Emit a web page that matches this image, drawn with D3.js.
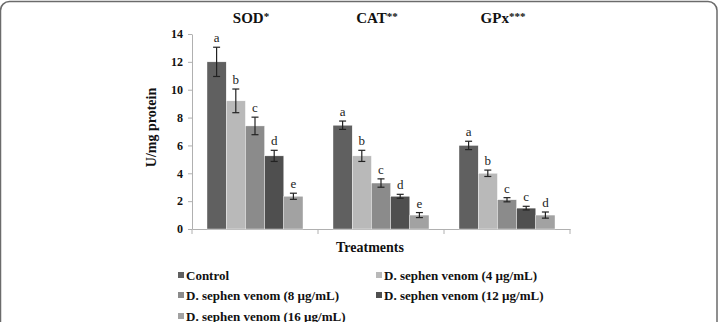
<!DOCTYPE html>
<html lang="en">
<head>
<meta charset="utf-8">
<title>Antioxidant enzymes</title>
<style type="text/css">
  body { margin: 0; background: #fff; }
  svg text { font-family: "Liberation Serif", "DejaVu Serif", serif; }
</style>
</head>
<body>
<script src="https://d3js.org/d3.v7.min.js"></script>
<script>

    // data
    var enzymes = ["SOD", "CAT", "GPx"];
    var enzymeStars = ["*", "**", "***"];
    var treatments = ["Control", "D. sephen venom (4 \u00b5g/mL)", "D. sephen venom (8 \u00b5g/mL)",
                      "D. sephen venom (12 \u00b5g/mL)", "D. sephen venom (16 \u00b5g/mL)"];
    var sodValues = [12.0, 9.2, 7.4, 5.25, 2.35];
    var catValues = [7.45, 5.25, 3.3, 2.35, 1.0];
    var gpxValues = [6.0, 4.0, 2.1, 1.5, 1.0];
    var sodErr = [1.05, 0.85, 0.63, 0.4, 0.22];
    var catErr = [0.3, 0.4, 0.3, 0.14, 0.18];
    var gpxErr = [0.3, 0.23, 0.15, 0.13, 0.22];
    var sodLetters = ["a", "b", "c", "d", "e"];
    var catLetters = ["a", "b", "c", "d", "e"];
    var gpxLetters = ["a", "b", "c", "c", "d"];
    var yTicks = [0, 2, 4, 6, 8, 10, 12, 14];

    var colors = ["#606060", "#b9b9b9", "#8b8b8b", "#4f4f4f", "#a2a2a2"];

    var values = [sodValues, catValues, gpxValues];
    var errs = [sodErr, catErr, gpxErr];
    var letters = [sodLetters, catLetters, gpxLetters];

    var margin = {top: 34, left: 192},
        width = 378,
        height = 195;

    var svg = d3.select("body").append("svg")
        .attr("width", 718)
        .attr("height", 322);

    // frame of the figure (only top part visible)
    svg.append("rect")
        .attr("x", 0.5).attr("y", 1.5)
        .attr("width", 716.5).attr("height", 400)
        .attr("rx", 9)
        .attr("fill", "none")
        .attr("stroke", "#6b6b6b")
        .attr("stroke-width", 1.5);

    var g = svg.append("g")
        .attr("transform", "translate(" + margin.left + "," + margin.top + ")");

    var yScale = d3.scaleLinear().domain([0, 14]).range([height, 0]);

    var x0 = d3.scaleBand().domain(enzymes).range([0, width]).paddingInner(0).paddingOuter(0);
    var x1 = d3.scaleBand().domain(d3.range(treatments.length))
        .range([15, x0.bandwidth() - 15]).padding(0);

    // y axis
    var yAxis = d3.axisLeft(yScale).tickValues(yTicks).tickSize(4).tickSizeOuter(0);
    var yAxisGroup = g.append("g").call(yAxis);
    yAxisGroup.select(".domain").attr("stroke", "#b0b0b0");
    yAxisGroup.selectAll(".tick line").attr("stroke", "#b0b0b0");
    yAxisGroup.selectAll(".tick text")
        .attr("x", -9)
        .attr("fill", "#111")
        .style("font-size", "12px")
        .style("font-weight", "bold");

    // x axis: baseline with separators between groups
    var xAxis = d3.axisBottom(x0).tickSize(0).tickFormat("");
    var xAxisGroup = g.append("g").attr("transform", "translate(0," + height + ")").call(xAxis);
    xAxisGroup.select(".domain").attr("stroke", "#b0b0b0");
    xAxisGroup.selectAll(".sep")
        .data([0].concat(enzymes.map(function(e){ return x0(e) + x0.bandwidth(); })))
        .enter().append("line")
        .attr("class", "sep")
        .attr("x1", function(d){ return d; }).attr("x2", function(d){ return d; })
        .attr("y1", 0).attr("y2", 5)
        .attr("stroke", "#b0b0b0");

    // bars
    var groups = g.selectAll(".grp")
        .data(enzymes)
        .enter().append("g")
        .attr("class", "grp")
        .attr("transform", function(d){ return "translate(" + x0(d) + ",0)"; });

    groups.each(function(e, gi){
        var grp = d3.select(this);
        var rows = treatments.map(function(t, i){
            return {i: i, v: values[gi][i], e: errs[gi][i], l: letters[gi][i]};
        });

        grp.selectAll("rect")
            .data(rows)
            .enter().append("rect")
            .attr("x", function(d){ return x1(d.i); })
            .attr("y", function(d){ return yScale(d.v); })
            .attr("width", x1.bandwidth())
            .attr("height", function(d){ return height - yScale(d.v); })
            .attr("fill", function(d){ return colors[d.i]; })
            .attr("stroke", "#fff")
            .attr("stroke-width", 0.4);

        var cx = function(d){ return x1(d.i) + x1.bandwidth() / 2; };

        grp.selectAll(".err")
            .data(rows)
            .enter().append("line")
            .attr("class", "err")
            .attr("x1", cx).attr("x2", cx)
            .attr("y1", function(d){ return yScale(d.v + d.e); })
            .attr("y2", function(d){ return yScale(d.v - d.e); })
            .attr("stroke", "#222").attr("stroke-width", 1.2);

        [1, -1].forEach(function(s){
            grp.selectAll(".cap" + s)
                .data(rows)
                .enter().append("line")
                .attr("x1", function(d){ return cx(d) - 3.5; })
                .attr("x2", function(d){ return cx(d) + 3.5; })
                .attr("y1", function(d){ return yScale(d.v + s * d.e); })
                .attr("y2", function(d){ return yScale(d.v + s * d.e); })
                .attr("stroke", "#222").attr("stroke-width", 1.2);
        });

        grp.selectAll(".lbl")
            .data(rows)
            .enter().append("text")
            .attr("x", cx)
            .attr("y", function(d){ return yScale(d.v + d.e) - 5; })
            .attr("text-anchor", "middle")
            .style("font-size", "13px")
            .attr("fill", "#222")
            .text(function(d){ return d.l; });
    });

    // enzyme titles
    var titles = svg.selectAll(".title")
        .data(enzymes)
        .enter().append("text")
        .attr("class", "title")
        .attr("x", function(d){ return margin.left + x0(d) + x0.bandwidth() / 2 - 4; })
        .attr("y", 23)
        .attr("text-anchor", "middle")
        .style("font-size", "15px")
        .style("font-weight", "bold")
        .attr("fill", "#111");
    titles.append("tspan").text(function(d){ return d; });
    titles.append("tspan")
        .attr("dy", -3)
        .style("font-size", "11px")
        .text(function(d, i){ return enzymeStars[i]; });

    // axis titles
    svg.append("text")
        .attr("transform", "translate(156," + (margin.top + height / 2 - 4) + ") rotate(-90)")
        .attr("text-anchor", "middle")
        .style("font-size", "14px")
        .style("font-weight", "bold")
        .attr("fill", "#111")
        .text("U/mg protein");

    svg.append("text")
        .attr("x", 370)
        .attr("y", 252)
        .attr("text-anchor", "middle")
        .style("font-size", "14px")
        .style("font-weight", "bold")
        .attr("fill", "#111")
        .text("Treatments");

    // legend
    var legendPos = [[178, 275], [376, 275], [178, 295], [376, 295], [178, 316]];
    var legend = svg.selectAll(".leg")
        .data(treatments)
        .enter().append("g")
        .attr("class", "leg")
        .attr("transform", function(d, i){ return "translate(" + legendPos[i][0] + "," + legendPos[i][1] + ")"; });
    legend.append("rect")
        .attr("x", 0).attr("y", -3)
        .attr("width", 6).attr("height", 6)
        .attr("fill", function(d, i){ return colors[i]; });
    legend.append("text")
        .attr("x", 8)
        .attr("y", 4.5)
        .style("font-size", "13px")
        .style("font-weight", "bold")
        .attr("fill", "#111")
        .text(function(d){ return d; });

</script>
</body>
</html>
